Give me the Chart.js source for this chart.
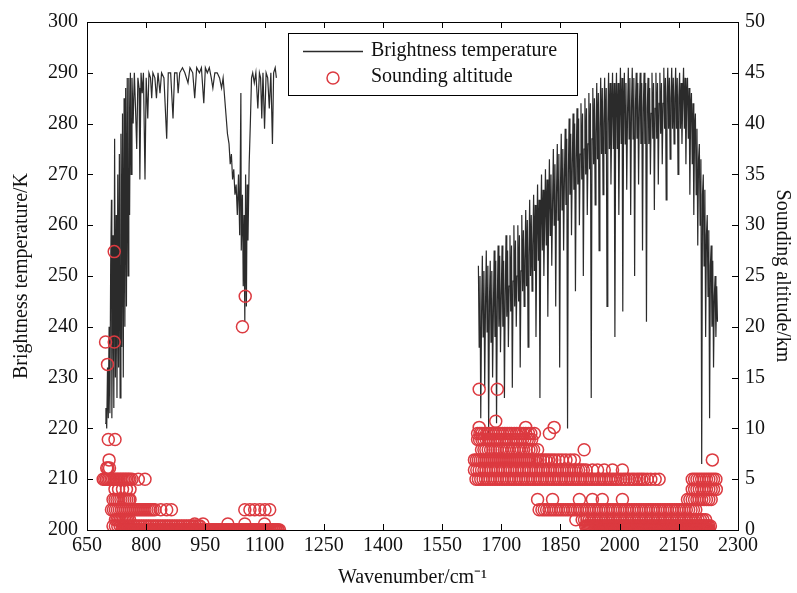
<!DOCTYPE html>
<html>
<head>
<meta charset="utf-8">
<script src="https://cdn.jsdelivr.net/npm/chart.js@4.4.1/dist/chart.umd.min.js"></script>
<style>
  body { margin: 0; background: #fff; }
  canvas { display: block; }
</style>
</head>
<body>
<canvas id="chart" width="797" height="593"></canvas>
<script>
// brightness temperature, long-wave band (wavenumber cm-1 / K)
var band1Wn = [696,698,700,702,704,706,708,710,712,713,716,718,720,722,724,726,728,730,732,734,736,738,740,742,744,746,748,750,752,754,756,758,760,762,764,767,770,773,776,779,782,784,787,790,793,797,800,804,807,811,814,817,822,826,830,835,839,845,852,856,862,868,872,878,881,885,892,898,906,911,918,923,928,935,940,946,950,955,960,965,969,974,980,986,991,995,999,1003,1006,1010,1013,1016,1019,1022,1025,1028,1031,1034,1037,1040,1041,1044,1046,1048,1050,1052,1054,1056,1058,1061,1064,1067,1070,1074,1078,1083,1087,1090,1093,1096,1100,1104,1108,1112,1116,1120,1123,1127,1130];
var band1K = [221,224,220,232,222,240,223,252,265,222,258,224,277,230,262,226,270,232,274,226,278,236,282,230,285,240,287,244,289,250,289,262,290,270,289,280,290,283,275,289,287,269,290,286,290,269,289,281,290,289,285,290,289,285,290,286,290,289,277,290,290,281,290,290,286,290,291,290,288,291,290,285,291,290,291,284,291,290,291,289,287,290,290,289,287,289,285,281,278,276,272,274,269,271,266,268,262,270,258,286,255,266,248,262,241,270,244,268,257,272,280,289,290,288,290,283,290,289,281,290,279,290,289,283,290,276,290,291,289];

// brightness temperature, short-wave band
var band2Wn = [
  1642,1644,1646,1648,1650,1652,1654,1656,1658,1660,
  1662,1664,1666,1668,1670,1672,1674,1676,1678,1680,
  1682,1684,1686,1688,1690,1692,1694,1696,1698,1700,
  1702,1704,1706,1708,1710,1712,1714,1716,1718,1720,
  1722,1724,1726,1728,1730,1732,1734,1736,1738,1740,
  1742,1744,1746,1748,1750,1752,1754,1756,1758,1760,
  1762,1764,1766,1768,1770,1772,1774,1776,1778,1780,
  1782,1784,1786,1788,1790,1792,1794,1796,1798,1800,
  1802,1804,1806,1808,1810,1812,1814,1816,1818,1820,
  1822,1824,1826,1828,1830,1832,1834,1836,1838,1840,
  1842,1844,1846,1848,1850,1852,1854,1856,1858,1860,
  1862,1864,1866,1868,1870,1872,1874,1876,1878,1880,
  1882,1884,1886,1888,1890,1892,1894,1896,1898,1900,
  1902,1904,1906,1908,1910,1912,1914,1916,1918,1920,
  1922,1924,1926,1928,1930,1932,1934,1936,1938,1940,
  1942,1944,1946,1948,1950,1952,1954,1956,1958,1960,
  1962,1964,1966,1968,1970,1972,1974,1976,1978,1980,
  1982,1984,1986,1988,1990,1992,1994,1996,1998,2000,
  2002,2004,2006,2008,2010,2012,2014,2016,2018,2020,
  2022,2024,2026,2028,2030,2032,2034,2036,2038,2040,
  2042,2044,2046,2048,2050,2052,2054,2056,2058,2060,
  2062,2064,2066,2068,2070,2072,2074,2076,2078,2080,
  2082,2084,2086,2088,2090,2092,2094,2096,2098,2100,
  2102,2104,2106,2108,2110,2112,2114,2116,2118,2120,
  2122,2124,2126,2128,2130,2132,2134,2136,2138,2140,
  2142,2144,2146,2148,2150,2152,2154,2156,2158,2160,
  2162,2164,2166,2168,2170,2172,2174,2176,2178,2180,
  2182,2184,2186,2188,2190,2192,2194,2196,2198,2200,
  2202,2204,2206,2208,2210,2212,2214,2216,2218,2220,
  2222,2224,2226,2228,2230,2232,2234,2236,2238,2240,
  2242,2244,2246,2248];
var band2K = [
  252,236,250,222,242, 254,238,251,228,244,
  255,239,252,219,245, 253,237,251,230,243,
  255,238,253,221,245, 256,240,254,235,246,
  256,240,253,226,246, 258,242,255,236,248,
  258,243,256,228,249, 260,244,257,240,250,
  260,245,258,232,251, 262,247,259,244,253,
  263,248,261,236,254, 265,250,262,247,256,
  266,251,264,238,257, 268,253,265,226,259,
  270,255,267,250,261, 271,256,269,242,262,
  273,258,270,252,264, 275,260,272,244,266,
  276,261,274,232,267, 278,263,275,255,269,
  279,264,277,220,270, 281,266,278,258,272,
  282,267,280,247,273, 283,268,281,260,274,
  284,269,282,250,275, 285,270,283,262,276,
  286,271,284,226,277, 287,272,285,264,278,
  288,273,286,255,279, 289,274,287,266,280,
  289,274,287,244,280, 290,275,288,268,281,
  290,275,288,238,281, 290,275,288,262,281,
  291,276,289,243,282, 290,276,288,267,282,
  291,277,289,262,283, 291,277,289,250,283,
  290,277,288,268,283, 290,276,288,255,283,
  290,276,288,241,283, 289,276,287,270,282,
  290,277,288,263,283, 290,277,288,268,284,
  290,278,288,272,284, 291,279,289,265,285,
  291,279,289,273,285, 291,279,289,276,285,
  291,279,289,270,285, 290,279,288,276,285,
  291,279,289,272,285, 289,277,287,266,283,
  286,272,284,262,279, 282,266,279,256,273,
  276,260,273,213,266, 270,252,267,238,258,
  262,246,259,222,252, 256,240,253,232,246,
  250,238,248,241];

// sounding altitude levels (km) and the wavenumbers drawn at each level
var soundingKm = [27.4, 23, 20, 18.5, 16.3, 13.85, 10.7, 10.1, 9.5, 8.9, 7.9, 6.9, 6.1, 5.9, 5.0, 4.0, 3.0, 2.0, 1.0, 0.6, 0.4, 0];
var soundingWn = [
  [719],
  [1051],
  [1044],
  [697, 719],
  [702],
  [1644, 1690],
  [1686],
  [1644, 1762, 1834],
  [1640,1646,1651,1657,1663,1668,1674,1680,1686,1692,1697,1703,1709,1715,1721,1726,1733,1739,1745,1750,1756,1762,1769,1775,1784,1822],
  [704,721,1640,1645,1651,1656,1662,1668,1673,1679,1685,1690,1696,1702,1708,1713,1719,1725,1731,1737,1742,1748,1754,1760,1766,1771,1777],
  [1650,1656,1661,1667,1673,1679,1684,1690,1696,1702,1708,1714,1720,1727,1733,1739,1745,1751,1757,1763,1770,1776,1782,1792,1910],
  [706,1632,1637,1642,1647,1652,1657,1662,1667,1672,1677,1682,1687,1692,1697,1702,1707,1712,1717,1722,1727,1732,1737,1742,1747,1752,1757,1762,1767,1772,1777,1782,1787,1793,1799,1806,1813,1820,1828,1836,1845,1854,1864,1875,1885,2235],
  [700, 703, 707],
  [1632,1638,1644,1650,1656,1662,1668,1674,1680,1686,1692,1698,1704,1710,1716,1722,1728,1734,1740,1746,1752,1758,1764,1770,1776,1782,1788,1794,1800,1806,1812,1818,1824,1830,1836,1842,1848,1854,1860,1866,1872,1878,1884,1890,1896,1902,1908,1915,1931,1944,1961,1982,2007],
  [691,695,699,703,707,711,715,719,723,727,731,735,739,743,747,751,755,759,764,780,797,1636,1642,1648,1654,1660,1666,1672,1678,1684,1690,1696,1702,1708,1714,1720,1726,1732,1738,1744,1750,1756,1762,1768,1774,1780,1786,1792,1798,1804,1810,1816,1822,1828,1834,1840,1846,1852,1858,1864,1870,1876,1882,1888,1894,1900,1906,1912,1918,1924,1930,1936,1942,1948,1954,1960,1966,1972,1978,1984,1990,1996,2003,2010,2016,2024,2031,2037,2044,2050,2056,2062,2070,2079,2090,2100,2184,2190,2196,2202,2208,2214,2220,2226,2232,2238,2244],
  [721,730,740,750,759,2184,2190,2196,2202,2208,2214,2220,2226,2232,2238,2245],
  [716,721,726,731,736,741,746,751,756,759,1792,1830,1898,1931,1956,2007,2172,2178,2184,2190,2196,2202,2208,2214,2220,2226,2232],
  [712,717,722,727,732,737,742,747,752,757,762,767,772,777,782,787,792,797,802,807,812,817,822,837,852,864,1050,1063,1075,1088,1101,1113,1796,1803,1809,1815,1821,1827,1833,1839,1845,1851,1857,1863,1869,1875,1881,1887,1893,1899,1905,1911,1917,1923,1929,1935,1941,1947,1953,1959,1965,1971,1977,1983,1989,1995,2001,2007,2013,2019,2025,2031,2037,2043,2049,2055,2061,2067,2073,2079,2085,2091,2097,2103,2109,2115,2121,2127,2133,2139,2145,2151,2157,2163,2169,2175,2181,2187,2193],
  [722,726,730,734,738,742,746,750,754,758,1889,1905,1911,1917,1923,1929,1935,1941,1947,1953,1959,1965,1971,1977,1983,1989,1995,2001,2007,2013,2019,2025,2031,2037,2043,2049,2055,2061,2067,2073,2079,2085,2091,2097,2103,2109,2115,2121,2127,2133,2139,2145,2151,2157,2163,2169,2175,2181,2187,2193,2199,2205,2211,2218],
  [923, 944, 1007, 1050, 1100],
  [716,722,728,734,740,746,752,758,764,770,776,782,788,794,800,806,812,818,824,830,836,842,848,854,860,866,872,878,884,890,896,902,908,914,920,926,932,936,1914,1917,1920,1923,1926,1929,1932,1935,1938,1941,1944,1947,1950,1953,1956,1959,1962,1965,1968,1971,1974,1977,1980,1983,1986,1989,1992,1995,1998,2001,2004,2007,2010,2013,2016,2019,2022,2025,2028,2031,2034,2037,2040,2043,2046,2049,2052,2055,2058,2061,2064,2067,2070,2073,2076,2079,2082,2085,2088,2091,2094,2097,2100,2103,2106,2109,2112,2115,2118,2121,2124,2127,2130,2133,2136,2139,2142,2145,2148,2151,2154,2157,2160,2163,2166,2169,2172,2175,2178,2181,2184,2187,2190,2193,2196,2199,2202,2205,2208,2211,2214,2217,2220,2223,2226,2230],
  [738,740,743,745,748,750,753,755,758,760,763,765,768,770,773,775,778,780,783,785,788,790,793,795,798,800,803,805,808,810,813,815,818,820,823,825,828,830,833,835,838,840,843,845,848,850,853,855,858,860,863,865,868,870,873,875,878,880,883,885,888,890,893,895,898,900,903,905,908,910,913,915,918,920,923,925,928,930,933,935,938,940,943,945,948,950,953,955,958,960,963,965,968,970,973,975,978,980,983,985,988,990,993,995,998,1000,1003,1005,1008,1010,1013,1015,1018,1020,1023,1025,1028,1030,1033,1035,1038,1040,1043,1045,1048,1050,1053,1055,1058,1060,1063,1065,1068,1070,1073,1075,1078,1080,1083,1085,1088,1090,1093,1095,1098,1100,1103,1105,1108,1110,1113,1115,1118,1120,1123,1125,1128,1130,1133,1135,1138,
   1948,1950,1953,1955,1958,1960,1963,1965,1968,1970,1973,1975,1978,1980,1983,1985,1988,1990,1993,1995,1998,2000,2003,2005,2008,2010,2013,2015,2018,2020,2023,2025,2028,2030,2033,2035,2038,2040,2043,2045,2048,2050,2053,2055,2058,2060,2063,2065,2068,2070,2073,2075,2078,2080,2083,2085,2088,2090,2093,2095,2098,2100,2103,2105,2108,2110,2113,2115,2118,2120,2123,2125,2128,2130,2133,2135,2138,2140,2143,2145,2148,2150,2153,2155,2158,2160,2163,2165,2168,2170,2173,2175,2178,2180,2183,2185,2188,2190,2193,2195,2198,2200,2203,2205,2208,2210,2213,2215,2218,2220,2223,2225,2227]
];

var lineColor = '#2b2b2b';
var circleColor = '#dc3a40';
var serif = '"Liberation Serif", "Times New Roman", serif';
var font20 = { family: serif, size: 20 };

// build points for the library
var btPoints = [];
band1Wn.forEach(function (w, i) { btPoints.push({ x: w, y: band1K[i] }); });
btPoints.push({ x: 1400, y: null });
band2Wn.forEach(function (w, i) { btPoints.push({ x: w, y: band2K[i] }); });

var altPoints = [];
soundingKm.forEach(function (km, i) {
  soundingWn[i].forEach(function (w) { altPoints.push({ x: w, y: km }); });
});

function plainLabel(v) { return String(v); }

// frame, inward ticks and the legend box inside the plot
var frameAndLegend = {
  id: 'frameAndLegend',
  afterDraw: function (chart) {
    var ctx = chart.ctx, a = chart.chartArea, s = chart.scales;
    ctx.save();
    ctx.strokeStyle = '#000';
    ctx.lineWidth = 1;
    ctx.beginPath();
    s.x.ticks.forEach(function (t) {
      var px = Math.round(s.x.getPixelForValue(t.value)) + 0.5;
      ctx.moveTo(px, a.bottom); ctx.lineTo(px, a.bottom - 6);
      ctx.moveTo(px, a.top); ctx.lineTo(px, a.top + 6);
    });
    s.y.ticks.forEach(function (t) {
      var py = Math.round(s.y.getPixelForValue(t.value)) + 0.5;
      ctx.moveTo(a.left, py); ctx.lineTo(a.left + 6, py);
    });
    s.y2.ticks.forEach(function (t) {
      var py = Math.round(s.y2.getPixelForValue(t.value)) + 0.5;
      ctx.moveTo(a.right, py); ctx.lineTo(a.right - 6, py);
    });
    ctx.stroke();
    ctx.strokeRect(Math.round(a.left) + 0.5, Math.round(a.top) + 0.5, Math.round(a.width), Math.round(a.height));

    // legend
    ctx.fillStyle = '#fff';
    ctx.fillRect(288, 33, 289, 62);
    ctx.strokeRect(288.5, 33.5, 289, 62);
    ctx.strokeStyle = lineColor;
    ctx.lineWidth = 1.3;
    ctx.beginPath();
    ctx.moveTo(303, 51.5); ctx.lineTo(363, 51.5);
    ctx.stroke();
    ctx.strokeStyle = circleColor;
    ctx.lineWidth = 1.5;
    ctx.beginPath();
    ctx.arc(333, 78, 6, 0, Math.PI * 2);
    ctx.stroke();
    ctx.fillStyle = '#111';
    ctx.font = '20px ' + serif;
    ctx.textBaseline = 'middle';
    ctx.fillText('Brightness temperature', 371, 51);
    ctx.fillText('Sounding altitude', 371, 77);
    ctx.restore();
  }
};

var ctx = document.getElementById('chart').getContext('2d');
var chart = new Chart(ctx, {
  type: 'line',
  data: {
    datasets: [{
      type: 'scatter',
      label: 'Sounding altitude',
      data: altPoints,
      yAxisID: 'y2',
      order: 0,
      showLine: false,
      pointStyle: 'circle',
      pointRadius: 6,
      borderWidth: 1.5,
      borderColor: circleColor,
      backgroundColor: 'rgba(0,0,0,0)'
    }, {
      label: 'Brightness temperature',
      data: btPoints,
      yAxisID: 'y',
      order: 1,
      borderColor: lineColor,
      borderWidth: 1.2,
      pointRadius: 0,
      spanGaps: false,
      tension: 0
    }]
  },
  options: {
    responsive: false,
    animation: false,
    devicePixelRatio: 1,
    layout: { padding: { top: 22, left: 0, right: 0, bottom: 0 } },
    plugins: { legend: { display: false }, tooltip: { enabled: false } },
    scales: {
      x: {
        type: 'linear', min: 650, max: 2300,
        ticks: { stepSize: 150, font: font20, color: '#111', padding: 4, maxRotation: 0, callback: plainLabel },
        grid: { display: false, drawTicks: false },
        border: { display: false },
        title: { display: true, text: 'Wavenumber/cm\u207B\u00B9', font: font20, color: '#111', padding: { top: 0, bottom: 3 } },
        afterFit: function (s) { s.height = 63; }
      },
      y: {
        position: 'left', min: 200, max: 300,
        ticks: { stepSize: 10, font: font20, color: '#111', padding: 9, callback: plainLabel },
        grid: { display: false, drawTicks: false },
        border: { display: false },
        title: { display: true, text: 'Brightness temperature/K', font: font20, color: '#111', padding: { top: 10, bottom: 0 } },
        afterFit: function (s) { s.width = 87; }
      },
      y2: {
        position: 'right', min: 0, max: 50,
        ticks: { stepSize: 5, font: font20, color: '#111', padding: 7, callback: plainLabel },
        grid: { display: false, drawTicks: false },
        border: { display: false },
        title: { display: true, text: 'Sounding altitude/km', font: font20, color: '#111', padding: { top: 3, bottom: 0 } },
        afterFit: function (s) { s.width = 59; }
      }
    }
  },
  plugins: [frameAndLegend]
});
</script>
</body>
</html>
